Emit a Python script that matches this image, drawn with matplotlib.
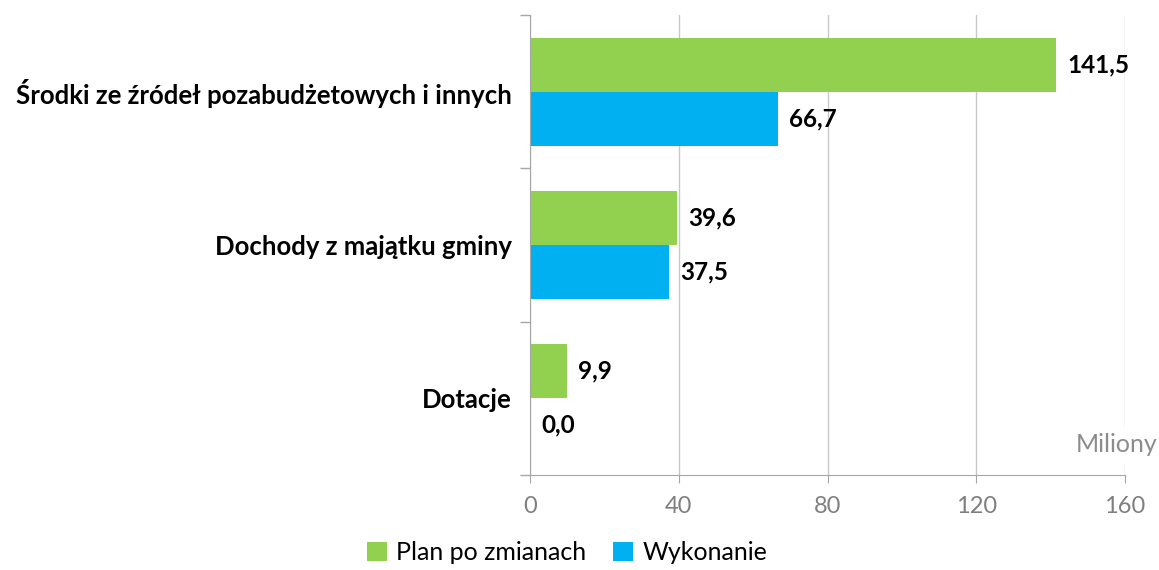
"""Plan vs wykonanie - dochody majątkowe"""

import numpy as np
import matplotlib.pyplot as plt
from matplotlib.ticker import FixedLocator

categories = ['Środki ze źródeł pozabudżetowych i innych',
              'Dochody z majątku gminy',
              'Dotacje']
plan = [141.5, 39.6, 9.9]
wykonanie = [66.7, 37.5, 0.0]
series_names = ['Plan po zmianach', 'Wykonanie']
x_ticks = [0, 40, 80, 120, 160]

GREEN = '#92d050'
BLUE = '#00b0f0'
GRAY = '#a6a6a6'

plt.rcParams['font.family'] = ['Lato', 'DejaVu Sans']

fig = plt.figure(figsize=(11.59, 5.70), dpi=100)
ax = fig.add_axes([530/1159, 95/570, 595/1159, 460/570])

y = np.arange(len(categories))
h = 0.353
bars_plan = ax.barh(y - h/2, plan, height=h, color=GREEN, label=series_names[0])
bars_wyk = ax.barh(y + h/2, wykonanie, height=h, color=BLUE, label=series_names[1])

for bars, vals in [(bars_plan, plan), (bars_wyk, wykonanie)]:
    for b, v in zip(bars, vals):
        ax.annotate(f"{v:.1f}".replace('.', ','),
                    (v, b.get_y() + b.get_height()/2),
                    xytext=(8, 0), textcoords='offset points',
                    ha='left', va='center', fontsize=17.5, fontweight='bold', color='black')

ax.set_xlim(0, 160)
ax.set_ylim(len(categories) - 0.5, -0.5)
ax.set_xticks(x_ticks)
ax.set_xticklabels([str(t) for t in x_ticks])
ax.set_yticks(y)
ax.set_yticklabels(categories, fontsize=18.5, fontweight='bold')
ax.yaxis.set_minor_locator(FixedLocator(np.arange(-0.5, len(categories), 1)))

ax.tick_params(axis='y', which='major', length=0, pad=13)
ax.tick_params(axis='y', which='minor', length=7, color=GRAY, width=1)
ax.tick_params(axis='x', length=6, color=GRAY, labelcolor='#7f7f7f', labelsize=17, pad=9)

ax.grid(axis='x', color='#c8c8c8', linewidth=1)
ax.set_axisbelow(True)
for s in ['top', 'right']:
    ax.spines[s].set_visible(False)
for s in ['left', 'bottom']:
    ax.spines[s].set_color(GRAY)

fig.text(1157/1159, 1 - 445/570, 'Miliony', ha='right', va='center',
         fontsize=18, color='#8c8c8c', backgroundcolor='white')

fig.legend(loc='center', bbox_to_anchor=(567/1159, 1 - 553/570), ncol=2, frameon=False,
           fontsize=18, handlelength=0.8, handleheight=0.8, handletextpad=0.35,
           columnspacing=1.1)

fig.savefig('out.png', dpi=100)
